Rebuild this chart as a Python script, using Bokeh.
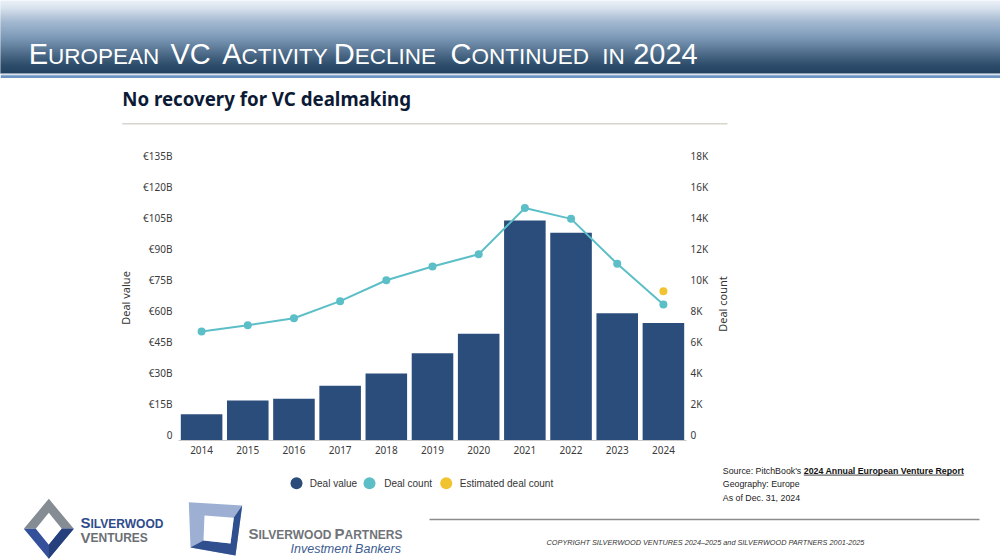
import numpy as np
from bokeh.plotting import figure
from bokeh.models import Range1d, LinearAxis, FixedTicker, Plot
from bokeh.layouts import column, row
from bokeh.core.properties import value
from bokeh.embed import file_html
from bokeh.resources import INLINE

# ------------------------------------------------------------------ data
years = [2014, 2015, 2016, 2017, 2018, 2019, 2020, 2021, 2022, 2023, 2024]
year_labels = ["2014", "2015", "2016", "2017", "2018", "2019", "2020", "2021", "2022", "2023", "2024"]
deal_value_eur_b = [12.7, 19.4, 20.2, 26.5, 32.4, 42.2, 51.6, 106.4, 100.5, 61.6, 56.8]
deal_count = [7030, 7440, 7890, 8990, 10340, 11230, 12020, 15000, 14300, 11400, 8770]
estimated_years = [2024]
estimated_deal_count = [9630]
value_ticks = [0, 15, 30, 45, 60, 75, 90, 105, 120, 135]
value_tick_labels = ["0", "€15B", "€30B", "€45B", "€60B", "€75B", "€90B", "€105B", "€120B", "€135B"]
count_ticks = [0, 2000, 4000, 6000, 8000, 10000, 12000, 14000, 16000, 18000]
count_tick_labels = ["0", "2K", "4K", "6K", "8K", "10K", "12K", "14K", "16K", "18K"]
legend_labels = ["Deal value", "Deal count", "Estimated deal count"]

title_pieces = ["E", "UROPEAN", "VC", "A", "CTIVITY", "D", "ECLINE", "C", "ONTINUED", "IN", "2024"]
title_piece_big = [True, False, True, True, False, True, False, True, False, False, True]
subtitle = "No recovery for VC dealmaking"
source_lines = ["Source: PitchBook's ", "Geography: Europe", "As of Dec. 31, 2024"]
source_report = "2024 Annual European Venture Report"
copyright_text = "COPYRIGHT SILVERWOOD VENTURES 2024\u20132025 and SILVERWOOD PARTNERS 2001-2025"

# ------------------------------------------------------------------ style
BAR = "#2b4d7b"
TEAL = "#5cbfc7"
YELLOW = "#f2c331"
legend_colors = [BAR, TEAL, YELLOW]
W = 1000
FONT = "Noto Sans"
ARIAL = "Liberation Sans"
NOALIGN = {"frame_align": False} if "frame_align" in Plot.properties() else {}


def pixel_fig(left, top, width, height):
    """A figure whose data units are page pixels (y grows downwards)."""
    p = figure(width=width, height=height, x_range=Range1d(left, left + width),
               y_range=Range1d(top + height, top), x_axis_type=None, y_axis_type=None,
               output_backend="svg", toolbar_location=None, min_border=0,
               min_border_left=0, min_border_right=0, min_border_top=0, min_border_bottom=0,
               outline_line_color=None, background_fill_color="white",
               border_fill_color="white", **NOALIGN)
    p.xgrid.visible = False
    p.ygrid.visible = False
    return p


# ================================================================== header
H_TOP, H_H = 0, 135
hdr = pixel_fig(0, H_TOP, W, H_H)

stop_y = [0, 8, 15, 22, 30, 40, 50, 58, 65, 73]
stop_rgb = [(236, 241, 247), (214, 225, 237), (186, 202, 221), (158, 181, 205), (139, 166, 195),
            (112, 143, 174), (82, 113, 143), (57, 89, 119), (37, 70, 101), (26, 58, 89)]
band_top = np.arange(0, 73)
cols = []
for yy in band_top + 0.5:
    r = np.interp(yy, stop_y, [c[0] for c in stop_rgb])
    g = np.interp(yy, stop_y, [c[1] for c in stop_rgb])
    b = np.interp(yy, stop_y, [c[2] for c in stop_rgb])
    cols.append("#%02x%02x%02x" % (int(r), int(g), int(b)))
hdr.quad(left=0, right=W, top=band_top, bottom=band_top + 1, fill_color=cols, line_color=cols,
         line_width=0.6)
hdr.quad(left=0, right=W, top=73, bottom=74.8, fill_color="#d9e4f0", line_color=None)
hdr.quad(left=0, right=W, top=74.8, bottom=77.4, fill_color="#6b94c2", line_color=None)

title_x = [28.3, 47.6, 170, 221.7, 241.0, 333.3, 354.2, 450, 470.9, 601.7, 632.7]
title_sizes = ["29px" if b else "22.5px" for b in title_piece_big]
title_y = [53.6 if b else 55.9 for b in title_piece_big]
hdr.text(x=title_x, y=title_y, text=title_pieces, text_font_size=title_sizes,
         text_font=value(ARIAL), text_color="white", text_baseline="middle", text_align="left")

hdr.text(x=[121.7], y=[97.8], text=[subtitle], text_font=value(FONT), text_font_style="bold",
         text_font_size="18.7px", text_color="#0c1a36", text_baseline="middle")
hdr.segment(x0=[121.7], y0=[123.3], x1=[727], y1=[123.3], line_color="#d7d5ce", line_width=1.5)

# ================================================================== chart
C_TOP, C_H = 135, 325
C_W = 714
FRAME_L, FRAME_W = 178, 508            # page x of the plot frame
FRAME_T, FRAME_B = 155, 440            # page y of the plot frame
LABEL_LIFT = 6                         # tick labels sit just above their (hidden) gridlines
vmax, cmax = value_ticks[-1], count_ticks[-1]
px_per_value = (FRAME_B - FRAME_T - LABEL_LIFT) / vmax
vshift = LABEL_LIFT / px_per_value
cshift = cmax * vshift / vmax

chart = figure(width=C_W, height=C_H,
               x_range=Range1d(years[0] - 0.5, years[-1] + 0.5),
               y_range=Range1d(value_ticks[0], vmax + vshift),
               y_axis_type=None, output_backend="svg", toolbar_location=None,
               min_border_left=FRAME_L, min_border_right=C_W - FRAME_L - FRAME_W,
               min_border_top=FRAME_T - C_TOP, min_border_bottom=C_TOP + C_H - FRAME_B,
               outline_line_color=None, background_fill_color="white",
               border_fill_color="white", **NOALIGN)
chart.xgrid.visible = False
chart.ygrid.visible = False
chart.extra_y_ranges = {
    "count": Range1d(count_ticks[0], cmax + cshift),
    "value_axis": Range1d(-vshift, vmax),
    "count_axis": Range1d(-cshift, cmax),
}

chart.vbar(x=years, top=deal_value_eur_b, width=0.9, fill_color=BAR, line_color=None)
chart.line(years, deal_count, y_range_name="count", line_color=TEAL, line_width=2)
chart.scatter(years, deal_count, y_range_name="count", size=8, fill_color=TEAL, line_color=None)
chart.scatter(estimated_years, estimated_deal_count, y_range_name="count", size=8,
              fill_color=YELLOW, line_color=None)


def style_axis(ax, standoff):
    ax.major_tick_line_color = None
    ax.minor_tick_line_color = None
    ax.major_tick_in = 0
    ax.major_tick_out = 0
    ax.minor_tick_in = 0
    ax.minor_tick_out = 0
    ax.major_label_standoff = standoff
    ax.major_label_text_font = FONT
    ax.major_label_text_font_size = "10px"
    ax.major_label_text_color = "#3a3a3a"
    ax.axis_label_text_font = FONT
    ax.axis_label_text_font_size = "11px"
    ax.axis_label_text_font_style = "normal"
    ax.axis_label_text_color = "#333333"


xa = chart.xaxis[0]
xa.ticker = FixedTicker(ticks=years)
xa.major_label_overrides = dict(zip(years, year_labels))
style_axis(xa, 5)
xa.axis_line_color = "#c8c8c8"

la = LinearAxis(y_range_name="value_axis", ticker=FixedTicker(ticks=value_ticks),
                major_label_overrides=dict(zip(value_ticks, value_tick_labels)),
                axis_label="Deal value", axis_label_standoff=7)
style_axis(la, 6)
la.axis_line_color = None
chart.add_layout(la, "left")

ra = LinearAxis(y_range_name="count_axis", ticker=FixedTicker(ticks=count_ticks),
                major_label_overrides=dict(zip(count_ticks, count_tick_labels)))
style_axis(ra, 4)
ra.axis_line_color = None
chart.add_layout(ra, "right")

# right-hand strip carrying the secondary axis title (reads bottom-to-top)
side = pixel_fig(C_W, C_TOP, W - C_W, C_H)
side.text(x=[722], y=[303.5], text=["Deal count"], angle=np.pi / 2, text_align="center",
          text_baseline="middle", text_font=value(FONT), text_font_size="11px",
          text_color="#333333")

# ================================================================== footer
F_TOP, F_H = 460, 100
ftr = pixel_fig(0, F_TOP, W, F_H)

# legend
ftr.scatter(x=[296, 369, 445.7], y=[482.7] * 3, size=12, fill_color=legend_colors, line_color=None)
ftr.text(x=[309.3, 383.7, 459.3], y=[482.7] * 3, text=legend_labels, text_font=value(ARIAL),
         text_font_size="10px", text_color="#333333", text_baseline="middle")

# source
ftr.text(x=[722.3, 722.3, 722.3], y=[470, 483.5, 497.3], text=source_lines, text_font=value(ARIAL),
         text_font_size="8.8px", text_color="#222222", text_baseline="middle")
ftr.text(x=[803.3], y=[470], text=[source_report], text_font=value(ARIAL), text_font_style="bold",
         text_font_size="8.8px", text_color="#111111", text_baseline="middle")
ftr.segment(x0=[803.3], y0=[474.6], x1=[963.3], y1=[474.6], line_color="#111111", line_width=0.8)

# footer rule and copyright
ftr.segment(x0=[429], y0=[519], x1=[979], y1=[519], line_color="#8c8c8c", line_width=1.5)
ftr.text(x=[705], y=[542], text=[copyright_text], text_font=value(ARIAL), text_font_style="italic",
         text_font_size="7.3px", text_color="#333333", text_baseline="middle", text_align="center")

# Silverwood Ventures logo
cx, cy = 48.3, 528.3
ftr.patches(xs=[[cx - 25, cx, cx + 25, cx + 13, cx, cx - 13],
                [cx - 25, cx, cx + 25, cx + 13, cx, cx - 13],
                [cx, cx + 25, cx + 13, cx]],
            ys=[[cy, cy - 30, cy, cy, cy - 16, cy],
                [cy, cy + 30, cy, cy, cy + 16, cy],
                [cy + 30, cy, cy, cy + 16]],
            fill_color=["#858c93", "#34509a", "#26407e"], line_color=None)
ftr.text(x=[80, 90], y=[522.3, 523.3], text=["S", "ILVERWOOD"], text_font_size=["15px", "12px"],
         text_font=value(ARIAL), text_font_style="bold", text_color="#2f4b8c",
         text_baseline="middle")
ftr.text(x=[80, 90], y=[536.5, 537.5], text=["V", "ENTURES"], text_font_size=["15px", "12px"],
         text_font=value(ARIAL), text_font_style="bold", text_color="#6b6f74",
         text_baseline="middle")

# Silverwood Partners logo
ftr.patches(xs=[[188.3, 241.7, 235, 190],
                [241.7, 235, 190, 203, 230, 233.3],
                [204, 233.3, 230, 203]],
            ys=[[501.7, 505, 555, 547],
                [505, 555, 547, 540, 543, 517.3],
                [515, 517.3, 543, 540]],
            fill_color=["#9db0d3", "#2f4f8e", "white"], line_color=None)
ftr.text(x=[248, 258, 334, 344], y=[533.1, 534.1, 533.1, 534.1],
         text=["S", "ILVERWOOD", "P", "ARTNERS"],
         text_font_size=["15px", "12px", "15px", "12px"], text_font=value(ARIAL),
         text_font_style="bold", text_color="#707478", text_baseline="middle")
ftr.text(x=[290], y=[548.6], text=["Investment Bankers"], text_font=value(ARIAL),
         text_font_style="italic", text_font_size="12.5px", text_color="#3d5d91",
         text_baseline="middle")

layout = column(hdr, row(chart, side, spacing=0), ftr, spacing=0)
open("out.html", "w").write(file_html(layout, INLINE))
